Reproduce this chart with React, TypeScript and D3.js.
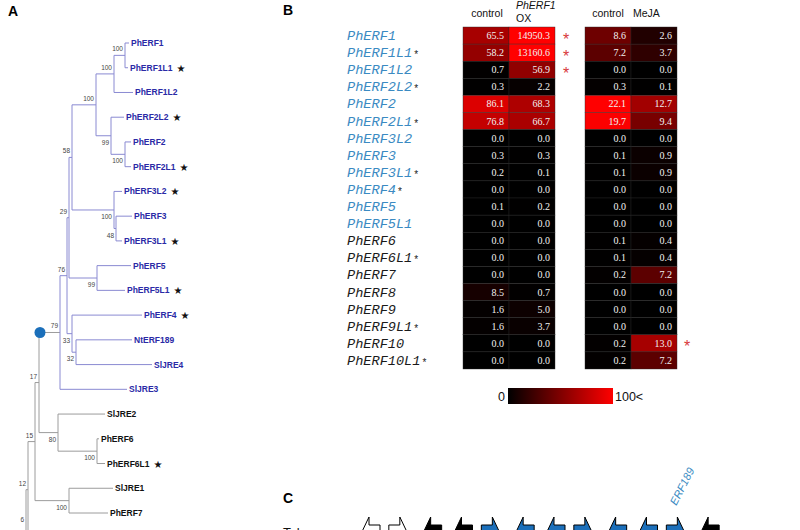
import React, { useRef, useEffect } from 'react';
import * as d3 from 'd3';

// ---------- Panel A: phylogenetic tree (branch lengths + bootstrap) ----------
type TNode = { name?: string; bs?: string; len: number; leaf?: string; children?: TNode[] };
const treeData: TNode = { name: 'I6', bs: '6', len: 0, children: [
  { name: 'H12', bs: '12', len: 2, children: [
    { name: 'G15', bs: '15', len: 7, children: [
      { name: 'F17', bs: '17', len: 4, children: [
        { name: 'E79', bs: '79', len: 21, children: [
          { name: 'D76', bs: '76', len: 7, children: [
            { name: 'C29', bs: '29', len: 2, children: [
              { name: 'B58', bs: '58', len: 3, children: [
                { name: 'A100', bs: '100', len: 24, children: [
                  { name: 'N100a', bs: '100', len: 18, children: [
                    { name: 'N100b', bs: '100', len: 11, children: [
                      { leaf: 'PhERF1', len: 4 },
                      { leaf: 'PhERF1L1', len: 3 },
                    ] },
                    { leaf: 'PhERF1L2', len: 19 },
                  ] },
                  { name: 'N99a', bs: '99', len: 15, children: [
                    { leaf: 'PhERF2L2', len: 13 },
                    { name: 'N100c', bs: '100', len: 14, children: [
                      { leaf: 'PhERF2', len: 6 },
                      { leaf: 'PhERF2L1', len: 6 },
                    ] },
                  ] },
                ] },
                { name: 'N100d', bs: '100', len: 42, children: [
                  { leaf: 'PhERF3L2', len: 8 },
                  { name: 'N48', bs: '48', len: 2, children: [
                    { leaf: 'PhERF3', len: 16 },
                    { leaf: 'PhERF3L1', len: 6 },
                  ] },
                ] },
              ] },
              { name: 'N99b', bs: '99', len: 28, children: [
                { leaf: 'PhERF5', len: 34 },
                { leaf: 'PhERF5L1', len: 28 },
              ] },
            ] },
            { name: 'N33', bs: '33', len: 5, children: [
              { leaf: 'PhERF4', len: 70 },
              { name: 'N32', bs: '32', len: 4, children: [
                { leaf: 'NtERF189', len: 56 },
                { leaf: 'SlJRE4', len: 76 },
              ] },
            ] },
          ] },
          { leaf: 'SlJRE3', len: 67 },
        ] },
        { name: 'N80', bs: '80', len: 19, children: [
          { leaf: 'SlJRE2', len: 47 },
          { name: 'N100e', bs: '100', len: 39, children: [
            { leaf: 'PhERF6', len: 2 },
            { leaf: 'PhERF6L1', len: 8 },
          ] },
        ] },
      ] },
      { name: 'N100f', bs: '100', len: 34, children: [
        { leaf: 'SlJRE1', len: 44 },
        { leaf: 'PhERF7', len: 39 },
      ] },
    ] },
    { leaf: '', len: 30 },
  ] },
  { leaf: '', len: 40 },
] };
const bsBelow = ['N99a', 'N100c', 'N100d', 'N48', 'N99b', 'N33', 'N32', 'N80', 'N100e', 'N100f'];
const treeStarred = ['PhERF1L1', 'PhERF2L2', 'PhERF2L1', 'PhERF3L2', 'PhERF3L1', 'PhERF5L1', 'PhERF4', 'PhERF6L1'];
const treeBlackLabels = ['SlJRE2', 'PhERF6', 'PhERF6L1', 'SlJRE1', 'PhERF7'];

// ---------- Panel B: heatmap ----------
const genes = ['PhERF1', 'PhERF1L1', 'PhERF1L2', 'PhERF2L2', 'PhERF2', 'PhERF2L1', 'PhERF3L2', 'PhERF3', 'PhERF3L1', 'PhERF4',
  'PhERF5', 'PhERF5L1', 'PhERF6', 'PhERF6L1', 'PhERF7', 'PhERF8', 'PhERF9', 'PhERF9L1', 'PhERF10', 'PhERF10L1'];
const geneStarred = ['PhERF1L1', 'PhERF2L2', 'PhERF2L1', 'PhERF3L1', 'PhERF4', 'PhERF6L1', 'PhERF9L1', 'PhERF10L1'];
const geneBlueCount = 12;
const controlOX = [65.5, 58.2, 0.7, 0.3, 86.1, 76.8, 0.0, 0.3, 0.2, 0.0, 0.1, 0.0, 0.0, 0.0, 0.0, 8.5, 1.6, 1.6, 0.0, 0.0];
const erf1OX = [14950.3, 13160.6, 56.9, 2.2, 68.3, 66.7, 0.0, 0.3, 0.1, 0.0, 0.2, 0.0, 0.0, 0.0, 0.0, 0.7, 5.0, 3.7, 0.0, 0.0];
const controlMe = [8.6, 7.2, 0.0, 0.3, 22.1, 19.7, 0.0, 0.1, 0.1, 0.0, 0.0, 0.0, 0.1, 0.1, 0.2, 0.0, 0.0, 0.0, 0.2, 0.2];
const meja = [2.6, 3.7, 0.0, 0.1, 12.7, 9.4, 0.0, 0.9, 0.9, 0.0, 0.0, 0.0, 0.4, 0.4, 7.2, 0.0, 0.0, 0.0, 13.0, 7.2];
const sigOX = ['PhERF1', 'PhERF1L1', 'PhERF1L2'];
const sigMeJA = ['PhERF10'];
const legendLabels = ['0', '100<'];

// ---------- Panel C: gene arrows ----------
const arrowDir = ['L', 'R', 'L', 'L', 'R', 'L', 'L', 'R', 'L', 'L', 'R', 'L'];
const arrowKind = ['none', 'none', 'other', 'other', 'erf', 'erf', 'erf', 'erf', 'erf', 'erf', 'erf', 'other'];
const arrowNamed = [{ idx: 10, label: 'ERF189' }];

const SANS = 'Liberation Sans, Arial, sans-serif';
const SERIF = 'Liberation Serif, Times New Roman, serif';
const MONO = 'Liberation Mono, Courier New, monospace';

export default function App() {
  const ref = useRef<SVGSVGElement>(null);
  useEffect(() => {
    const svg = d3.select(ref.current!);
    svg.selectAll('*').remove();

    // ===== Panel labels =====
    const panels = [['A', 8, 16], ['B', 283, 15], ['C', 283, 503]] as const;
    svg.selectAll('text.panel').data(panels).join('text').attr('class', 'panel')
      .attr('x', d => d[1]).attr('y', d => d[2]).text(d => d[0])
      .attr('font-family', SANS).attr('font-weight', 'bold').attr('font-size', 14);

    // ===== Tree =====
    const root = d3.hierarchy<TNode>(treeData, d => d.children);
    const dist = new Map<any, number>();
    root.eachBefore(n => dist.set(n, (n.parent ? dist.get(n.parent)! : 0) + n.data.len));
    const xT = d3.scaleLinear().domain([0, 100]).range([26, 126]);
    const yT = d3.scaleLinear().domain([0, 19]).range([43, 513]);
    const pos = new Map<any, { x: number; y: number }>();
    root.leaves().forEach((l, i) => pos.set(l, { x: xT(dist.get(l)!), y: yT(i) }));
    root.eachAfter(n => {
      if (n.children) {
        const f = pos.get(n.children[0])!, l = pos.get(n.children[n.children.length - 1])!;
        pos.set(n, { x: xT(dist.get(n)!), y: (f.y + l.y) / 2 });
      }
    });
    const e79 = root.descendants().find(n => n.data.name === 'E79')!;
    const blueSet = new Set(e79.descendants().filter(n => n !== e79));
    const blueLine = '#8a8ad2', grayLine = '#9c9c9c';
    const gT = svg.append('g');
    root.descendants().forEach(n => {
      const p = pos.get(n)!;
      if (n.parent) {
        const pp = pos.get(n.parent)!;
        gT.append('line').attr('x1', pp.x).attr('x2', p.x).attr('y1', p.y).attr('y2', p.y)
          .attr('stroke', blueSet.has(n) ? blueLine : grayLine).attr('stroke-width', 1);
      }
      if (n.children) {
        const f = pos.get(n.children[0])!, l = pos.get(n.children[n.children.length - 1])!;
        gT.append('line').attr('x1', p.x).attr('x2', p.x).attr('y1', f.y).attr('y2', l.y)
          .attr('stroke', (blueSet.has(n) || n === e79) ? blueLine : grayLine).attr('stroke-width', 1);
        if (n.data.bs) {
          const below = bsBelow.includes(n.data.name!);
          gT.append('text').attr('x', p.x - 2).attr('y', below ? p.y + 9 : p.y - 4)
            .attr('text-anchor', 'end').attr('font-family', SANS).attr('font-size', 6.5)
            .attr('fill', '#444').text(n.data.bs);
        }
      }
    });
    // blue marker on the branch to the E79 clade
    const f17 = root.descendants().find(n => n.data.name === 'F17')!;
    gT.append('circle').attr('cx', pos.get(f17)!.x + 1).attr('cy', pos.get(e79)!.y).attr('r', 5.5).attr('fill', '#1b6fba');
    root.leaves().filter(l => l.data.leaf).forEach(l => {
      const p = pos.get(l)!;
      const t = gT.append('text').attr('x', p.x + 2).attr('y', p.y + 3)
        .attr('font-family', SANS).attr('font-weight', 'bold').attr('font-size', 8.5)
        .attr('fill', treeBlackLabels.includes(l.data.leaf!) ? '#111' : '#2a2aa6').text(l.data.leaf!);
      if (treeStarred.includes(l.data.leaf!)) {
        const w = (t.node() as SVGTextElement).getComputedTextLength();
        gT.append('text').attr('x', p.x + 2 + w + 4).attr('y', p.y + 4)
          .attr('font-family', 'DejaVu Sans, sans-serif').attr('font-size', 10).attr('fill', '#111').text('\u2605');
      }
    });

    // ===== Heatmap =====
    const yH = d3.scaleBand<string>().domain(genes).range([27, 369]);
    const colL = d3.scaleBand<string>().domain(['control', 'OX']).range([463, 555]);
    const colR = d3.scaleBand<string>().domain(['control', 'MeJA']).range([585, 677]);
    const colorL = d3.scaleLinear<string>().domain([0, 100]).range(['#000000', '#ff0000']).clamp(true);
    const colorR = d3.scaleLinear<string>().domain([0, 20]).range(['#000000', '#ff0000']).clamp(true);
    const gH = svg.append('g');
    const blocks = [
      { col: colL, color: colorL, series: [['control', controlOX], ['OX', erf1OX]] as [string, number[]][] },
      { col: colR, color: colorR, series: [['control', controlMe], ['MeJA', meja]] as [string, number[]][] },
    ];
    blocks.forEach(b => {
      b.series.forEach(([key, vals]) => {
        const cells = genes.map((g, i) => ({ g, v: vals[i] }));
        gH.append('g').selectAll('rect').data(cells).join('rect')
          .attr('x', b.col(key)!).attr('y', d => yH(d.g)!).attr('width', b.col.bandwidth()).attr('height', yH.bandwidth())
          .attr('fill', d => b.color(d.v)).attr('stroke', '#2a2a2a').attr('stroke-width', 0.4);
        gH.append('g').selectAll('text').data(cells).join('text')
          .attr('x', b.col(key)! + b.col.bandwidth() - 5).attr('y', d => yH(d.g)! + yH.bandwidth() / 2 + 3.5)
          .attr('text-anchor', 'end').attr('font-family', SERIF).attr('font-size', 10).attr('fill', '#f2f2f2')
          .text(d => d.v.toFixed(1));
      });
    });
    // row labels
    genes.forEach((g, i) => {
      const cy = yH(g)! + yH.bandwidth() / 2;
      const t = gH.append('text').attr('x', 347).attr('y', cy + 4.5)
        .attr('font-family', MONO).attr('font-style', 'italic').attr('font-size', 13.6)
        .attr('fill', i < geneBlueCount ? '#3a8ac2' : '#1a1a1a').text(g);
      if (geneStarred.includes(g)) {
        const w = (t.node() as SVGTextElement).getComputedTextLength();
        gH.append('text').attr('x', 347 + w + 2).attr('y', cy + 5.5)
          .attr('font-family', SANS).attr('font-size', 10).attr('fill', '#222').text('*');
      }
    });
    // significance asterisks
    const redStar = (x: number, g: string) => gH.append('text').attr('x', x).attr('y', yH(g)! + yH.bandwidth() / 2 + 9)
      .attr('text-anchor', 'middle').attr('font-family', SANS).attr('font-size', 16).attr('fill', '#d83a3a').text('*');
    sigOX.forEach(g => redStar(566, g));
    sigMeJA.forEach(g => redStar(687, g));
    // column headers
    const hdr = (x: number, y: number, s: string, anchor = 'middle', italic = false) =>
      gH.append('text').attr('x', x).attr('y', y).attr('text-anchor', anchor).attr('font-family', SANS)
        .attr('font-size', 10.5).attr('font-style', italic ? 'italic' : 'normal').attr('fill', '#111').text(s);
    hdr(colL('control')! + colL.bandwidth() / 2 + 1, 17, 'control');
    hdr(colL('OX')! + 7, 9, 'PhERF1', 'start', true);
    hdr(colL('OX')! + 7, 22, 'OX', 'start');
    hdr(colR('control')! + colR.bandwidth() / 2, 17, 'control');
    hdr(colR('MeJA')! + 2, 17, 'MeJA', 'start');

    // legend
    const defs = svg.append('defs');
    const grad = defs.append('linearGradient').attr('id', 'hmGrad');
    grad.append('stop').attr('offset', '0%').attr('stop-color', colorL(0));
    grad.append('stop').attr('offset', '100%').attr('stop-color', colorL(100));
    const xLeg = d3.scaleLinear().domain([0, 100]).range([508, 613]);
    svg.append('rect').attr('x', xLeg(0)).attr('y', 388).attr('width', xLeg(100) - xLeg(0)).attr('height', 16)
      .attr('fill', 'url(#hmGrad)');
    svg.append('text').attr('x', xLeg(0) - 3).attr('y', 401).attr('text-anchor', 'end')
      .attr('font-family', SANS).attr('font-size', 12.5).attr('fill', '#111').text(legendLabels[0]);
    svg.append('text').attr('x', xLeg(100) + 2).attr('y', 401)
      .attr('font-family', SANS).attr('font-size', 12.5).attr('fill', '#111').text(legendLabels[1]);

    // ===== Panel C =====
    svg.append('text').attr('x', 283).attr('y', 537).attr('font-family', SANS).attr('font-size', 13)
      .attr('fill', '#111').text('Tobacco');
    const xA = d3.scaleBand<number>().domain(d3.range(arrowDir.length)).range([358, 728]);
    const cy = 540, hh = 23, bh = 15, hl = 11, w = 22;
    const fillOf: Record<string, string> = { none: '#ffffff', other: '#000000', erf: '#1b6fba' };
    arrowDir.forEach((dir, i) => {
      const x0 = xA(i)!;
      let pts: [number, number][] = [[0, 0], [hl, -hh], [hl, -bh], [w, -bh], [w, bh], [hl, bh], [hl, hh]];
      if (dir === 'R') pts = pts.map(([x, y]) => [w - x, y]);
      svg.append('polygon').attr('points', pts.map(([x, y]) => `${x0 + x},${cy + y}`).join(' '))
        .attr('fill', fillOf[arrowKind[i]]).attr('stroke', '#000').attr('stroke-width', 1);
    });
    arrowNamed.forEach(a => {
      const x0 = xA(a.idx)!;
      svg.append('text').attr('transform', `translate(${x0 + 10},506) rotate(-63)`)
        .attr('font-family', SANS).attr('font-size', 11).attr('font-style', 'italic').attr('fill', '#3a8ac2').text(a.label);
    });
  }, []);
  return <svg ref={ref} width={800} height={530} style={{ position: 'absolute', left: 0, top: 0, background: '#fff', overflow: 'hidden' }} />;
}
